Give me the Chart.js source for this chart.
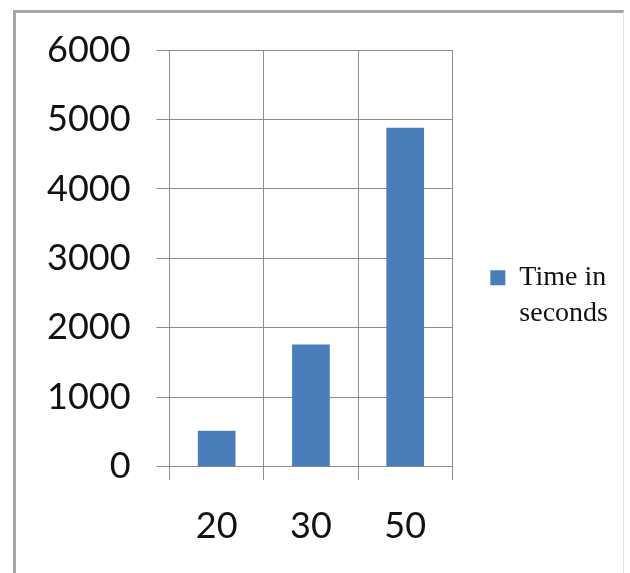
<!DOCTYPE html>
<html>
<head>
<meta charset="utf-8">
<script src="https://cdn.jsdelivr.net/npm/chart.js@4"></script>
<style>
  body { margin: 0; background: #fff; }
  #wrap { position: relative; width: 630px; height: 573px; }
  #frame {
    position: absolute; left: 13px; top: 10px; width: 607px; height: 580px;
    border-left: 3px solid #a6a6a6; border-top: 3px solid #a6a6a6; border-right: 1px solid #e2e2e2;
    pointer-events: none;
  }
</style>
</head>
<body>
<div id="wrap">
  <canvas id="myChart" width="630" height="573"></canvas>
  <div id="frame"></div>
</div>
<script>
// chart data
const categories = ["20", "30", "50"];
const timeValues = [520, 1760, 4880];
const seriesName = ["Time in", "seconds"];
const yTicks = [0, 1000, 2000, 3000, 4000, 5000, 6000];

const gridColor = "#8c8c8c";

const myChart = new Chart(document.getElementById("myChart"), {
  type: "bar",
  data: {
    labels: categories,
    datasets: [
      {
        label: seriesName.join(" "),
        data: timeValues,
        backgroundColor: "#4a7ebb",
        barPercentage: 0.4,
        categoryPercentage: 1,
      },
    ],
  },
  options: {
    responsive: false,
    animation: false,
    layout: {
      padding: { left: 21, top: 50, right: 12, bottom: 0 },
    },
    plugins: {
      tooltip: { enabled: false },
      legend: {
        position: "right",
        align: "center",
        fullSize: false,
        maxWidth: 300,
        // empty title only pushes the entry down to the middle of the plot
        title: { display: true, text: "", font: { size: 10, lineHeight: 1 }, padding: { top: 0, bottom: 73 } },
        labels: {
          boxWidth: 15,
          boxHeight: 15,
          padding: 38,
          color: "#111",
          font: { family: "Liberation Serif", size: 28, lineHeight: 1.29 },
          generateLabels: (chart) => [
            {
              text: seriesName,
              fillStyle: chart.data.datasets[0].backgroundColor,
              strokeStyle: chart.data.datasets[0].backgroundColor,
              fontColor: "#111",
              lineWidth: 0,
              datasetIndex: 0,
            },
          ],
        },
      },
    },
    scales: {
      x: {
        grid: { color: gridColor, tickLength: 13, offset: true },
        border: { display: false },
        ticks: {
          color: "#111",
          padding: 25,
          font: { family: "Lato", size: 36 },
        },
      },
      y: {
        min: 0,
        max: 6000,
        afterBuildTicks: (axis) => {
          axis.ticks = yTicks.map((v) => ({ value: v }));
        },
        grid: { color: gridColor, tickLength: 13 },
        border: { display: false },
        ticks: {
          color: "#111",
          padding: 26,
          font: { family: "Lato", size: 36 },
          callback: (value) => String(value),
        },
      },
    },
  },
});
</script>
</body>
</html>
